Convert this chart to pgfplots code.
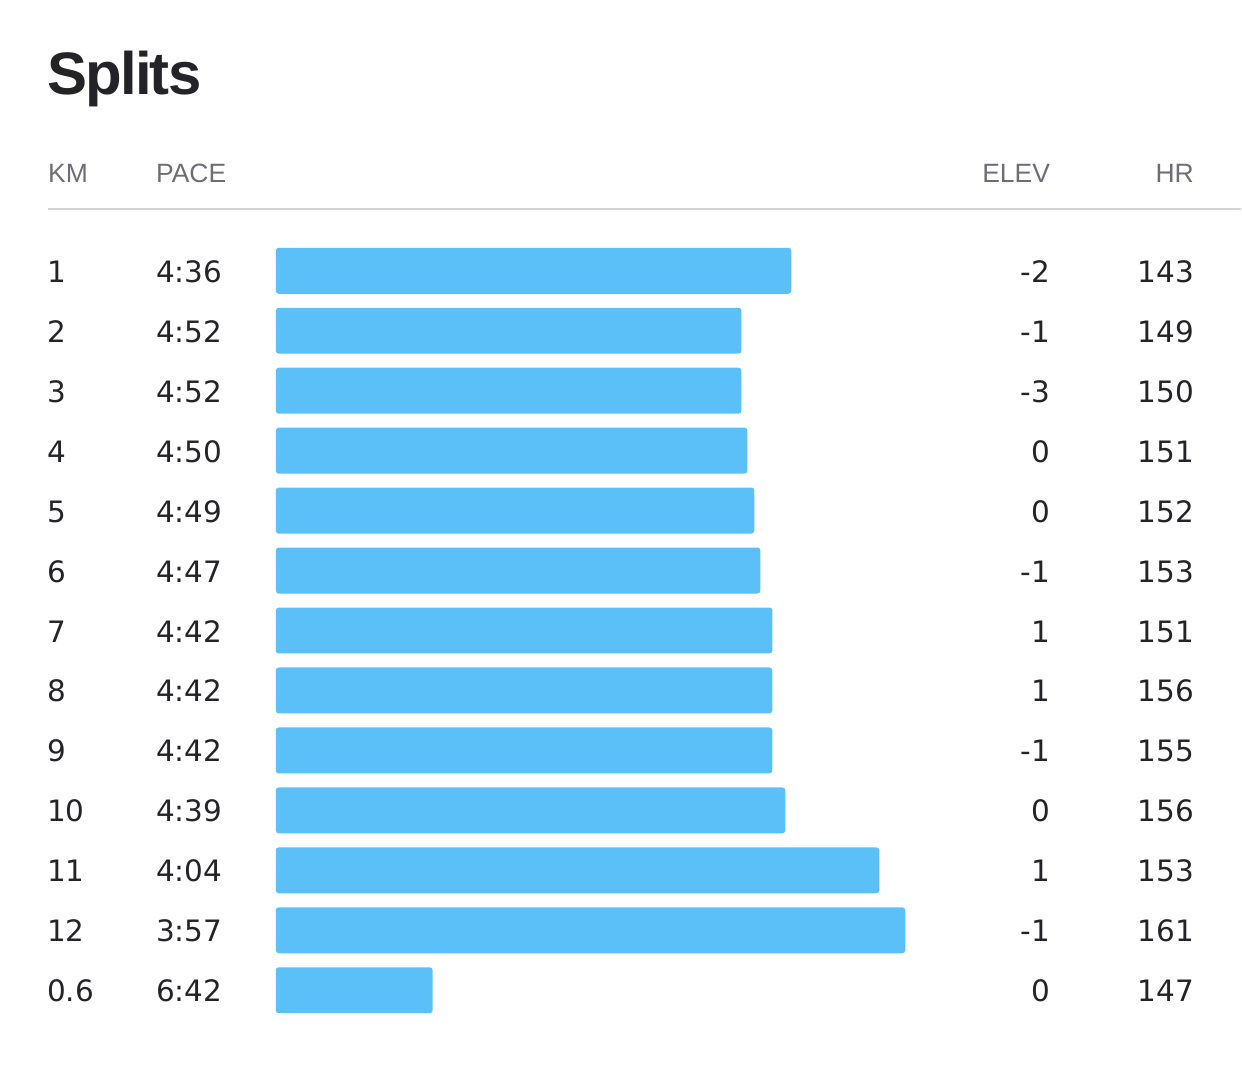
\documentclass[border=0pt]{standalone}
\usepackage{pgfplots}
\usepackage{pgfplotstable}
\pgfplotsset{compat=1.18}
\usepackage{fontspec}
\setmainfont{Liberation Sans}
\newfontfamily\numfont{DejaVu Sans}
\newfontfamily\titlefont[LetterSpace=-3]{Liberation Sans}
\definecolor{barblue}{HTML}{5BBFF8}
\definecolor{txt}{HTML}{242428}
\definecolor{hdr}{HTML}{6D6D78}
\definecolor{rule}{HTML}{D2D2DA}
\pgfplotstableread{
km  pace len elev hr  y
1   4:36 516 -2   143 271
2   4:52 466 -1   149 331
3   4:52 466 -3   150 391
4   4:50 472 0    151 451
5   4:49 479 0    152 511
6   4:47 485 -1   153 571
7   4:42 497 1    151 631
8   4:42 497 1    156 691
9   4:42 497 -1   155 751
10  4:39 510 0    156 811
11  4:04 604 1    153 871
12  3:57 630 -1   161 931
0.6 6:42 157 0    147 991
}\splits
\begin{document}
\begin{tikzpicture}
\begin{axis}[
  scale only axis, width=1242bp, height=1082bp,
  xmin=-276, xmax=966, ymin=0, ymax=1082, y dir=reverse,
  hide axis, clip=false,
  every node near coord/.append style={font=\numfont\fontsize{29.5bp}{36bp}\selectfont, text=txt, inner sep=0pt},
]
\path (axis cs:-276,0) rectangle (axis cs:966,1082);
\addplot[xbar, bar width=46, fill=barblue, draw=none, rounded corners=3bp]
  table[x=len, y=y] {\splits};
\addplot[draw=none, mark=none, nodes near coords, point meta=explicit symbolic,
  nodes near coords style={anchor=base west}]
  table[x expr=-229, y expr=\thisrow{y}+11.5, meta=km] {\splits};
\addplot[draw=none, mark=none, nodes near coords, point meta=explicit symbolic,
  nodes near coords style={anchor=base west}]
  table[x expr=-120, y expr=\thisrow{y}+11.5, meta=pace] {\splits};
\addplot[draw=none, mark=none, nodes near coords, point meta=explicit symbolic,
  nodes near coords style={anchor=base east}]
  table[x expr=775, y expr=\thisrow{y}+11.5, meta=elev] {\splits};
\addplot[draw=none, mark=none, nodes near coords, point meta=explicit symbolic,
  nodes near coords style={anchor=base east}]
  table[x expr=919, y expr=\thisrow{y}+11.5, meta=hr] {\splits};
\node[anchor=base west, inner sep=0pt, text=txt, font=\titlefont\fontsize{60bp}{66bp}\selectfont\bfseries] at (axis cs:-229,95) {Splits};
\begin{scope}[every node/.style={inner sep=0pt, text=hdr, font=\fontsize{26.5bp}{33bp}\selectfont}]
\node[anchor=base west] at (axis cs:-228,183) {KM};
\node[anchor=base west] at (axis cs:-120,183) {PACE};
\node[anchor=base east] at (axis cs:775,183) {ELEV};
\node[anchor=base east] at (axis cs:919,183) {HR};
\end{scope}
\draw[rule, line width=2bp] (axis cs:-228,209) -- (axis cs:966,209);
\end{axis}
\end{tikzpicture}
\end{document}
